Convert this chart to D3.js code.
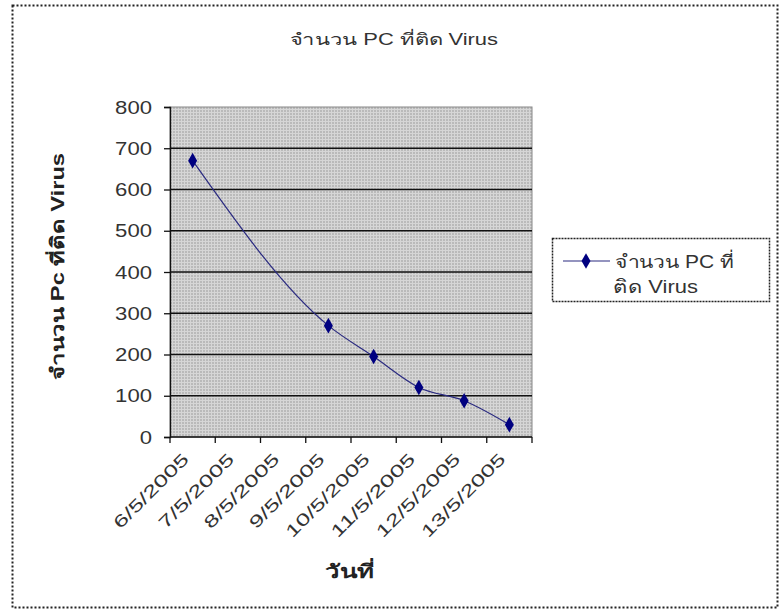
<html>
<meta charset="utf-8">
<script src="https://cdn.jsdelivr.net/npm/d3@7"></script>
<style>
  body { margin: 0; background: white; }
  text { font-family: "Liberation Sans", Arial, "DejaVu Sans", sans-serif; }
</style>
<body>
<div id="chart"></div>
<script>

var dates = ["6/5/2005","7/5/2005","8/5/2005","9/5/2005","10/5/2005","11/5/2005","12/5/2005","13/5/2005"]
var infected = [670, null, null, 270, 195, 120, 88, 30]
var yTicks = [0,100,200,300,400,500,600,700,800]
var seriesName = "จำนวน PC ที่ติด Virus"

var width = 782, height = 614
var plot = {left:170, right:532, top:107, bottom:437}

var svg = d3.select("#chart").append("svg")
  .attr("width", width).attr("height", height)

// dotted outer frame
svg.append("rect")
  .attr("x", 12.5).attr("y", 5.5).attr("width", 765).attr("height", 602)
  .attr("fill", "white").attr("stroke", "#222").attr("stroke-width", 2)
  .attr("stroke-dasharray", "2,2")

// texture for plot area
var defs = svg.append("defs")
var pat = defs.append("pattern").attr("id","dots")
  .attr("width",3).attr("height",3).attr("patternUnits","userSpaceOnUse")
pat.append("rect").attr("width",3).attr("height",3).attr("fill","#bababa")
pat.append("rect").attr("x",1).attr("y",0).attr("width",1).attr("height",3).attr("fill","#d6d6d6")
pat.append("rect").attr("x",0).attr("y",1).attr("width",3).attr("height",1).attr("fill","#d6d6d6")

var x = d3.scaleBand().domain(dates).range([plot.left, plot.right])
var y = d3.scaleLinear().domain([0,800]).range([plot.bottom, plot.top])

svg.append("rect")
  .attr("x", plot.left).attr("y", plot.top)
  .attr("width", plot.right-plot.left).attr("height", plot.bottom-plot.top)
  .attr("fill","url(#dots)").attr("stroke","#888")

// gridlines
svg.append("g").selectAll("line").data(yTicks.filter(function(d){return d>0 && d<800}))
  .enter().append("line")
  .attr("x1", plot.left).attr("x2", plot.right)
  .attr("y1", function(d){return y(d)}).attr("y2", function(d){return y(d)})
  .attr("stroke","#111").attr("stroke-width",1.6)

// y axis
var yAxis = d3.axisLeft(y).tickValues(yTicks).tickSize(6).tickPadding(12)
var gy = svg.append("g").attr("transform","translate("+plot.left+",0)").call(yAxis)
gy.select(".domain").attr("stroke","#111").attr("stroke-width",1.3)
gy.selectAll(".tick line").attr("stroke","#111").attr("stroke-width",1.3)
gy.selectAll("text").attr("font-size",19).attr("fill","#333")
  .attr("font-family","'Liberation Sans', Arial, sans-serif")
  .attr("textLength",function(d){return String(d).length*12.3})
  .attr("lengthAdjust","spacingAndGlyphs")

// x axis: ticks between categories
var gx = svg.append("g").attr("transform","translate(0,"+plot.bottom+")")
gx.append("line").attr("x1",plot.left).attr("x2",plot.right)
  .attr("stroke","#111").attr("stroke-width",1.3)
var edges = dates.map(function(d){return x(d)}).concat([plot.right])
gx.selectAll("line.tk").data(edges).enter().append("line").attr("class","tk")
  .attr("x1",function(d){return d}).attr("x2",function(d){return d})
  .attr("y1",0).attr("y2",6).attr("stroke","#111").attr("stroke-width",1.3)
gx.selectAll("text").data(dates).enter().append("text")
  .attr("transform",function(d){return "translate("+(x(d)+x.bandwidth()/2-7)+",19) rotate(-45)"})
  .attr("text-anchor","end").attr("dy","0.35em")
  .attr("font-size",17).attr("fill","#333")
  .attr("textLength",function(d){return d.length*12.3})
  .attr("lengthAdjust","spacingAndGlyphs")
  .text(function(d){return d})

// line series (smoothed, gaps spanned)
var pts = dates.map(function(d,i){return {date:d, v:infected[i]}}).filter(function(d){return d.v!=null})
var line = d3.line()
  .x(function(d){return x(d.date)+x.bandwidth()/2})
  .y(function(d){return y(d.v)})
  .curve(d3.curveMonotoneX)
svg.append("path").datum(pts).attr("d",line)
  .attr("fill","none").attr("stroke","#2a2a80").attr("stroke-width",1.2)

var diamond = d3.symbol().type(d3.symbolDiamond).size(70)
svg.append("g").selectAll("path").data(pts).enter().append("path")
  .attr("d",diamond)
  .attr("transform",function(d){return "translate("+(x(d.date)+x.bandwidth()/2)+","+y(d.v)+")"})
  .attr("fill","#000080")

// title
svg.append("text").attr("x",290).attr("y",45)
  .attr("font-size",16).attr("fill","#333")
  .attr("textLength",208).attr("lengthAdjust","spacingAndGlyphs").text(seriesName)

// axis titles
svg.append("text").attr("transform","translate(64,380) rotate(-90)")
  .attr("font-size",18).attr("font-weight","bold")
  .attr("textLength",227).attr("lengthAdjust","spacingAndGlyphs")
  .attr("fill","#222").text("จำนวน Pc ที่ติด Virus")
svg.append("text").attr("x",325).attr("y",578)
  .attr("font-size",19).attr("font-weight","bold").attr("fill","#222")
  .attr("textLength",50).attr("lengthAdjust","spacingAndGlyphs").text("วันที่")

// legend
var lg = svg.append("g")
lg.append("rect").attr("x",552.5).attr("y",238.5).attr("width",217).attr("height",63)
  .attr("fill","white").attr("stroke","#222").attr("stroke-width",1.5).attr("stroke-dasharray","2,1")
lg.append("line").attr("x1",563).attr("x2",610).attr("y1",261).attr("y2",261)
  .attr("stroke","#2a2a80").attr("stroke-width",1.2)
lg.append("path").attr("d",diamond).attr("transform","translate(586,261)").attr("fill","#000080")
lg.append("text").attr("x",615).attr("y",268).attr("font-size",18).attr("fill","#333")
  .attr("textLength",119).attr("lengthAdjust","spacingAndGlyphs").text("จำนวน PC ที่")
lg.append("text").attr("x",613).attr("y",293).attr("font-size",18).attr("fill","#333")
  .attr("textLength",85).attr("lengthAdjust","spacingAndGlyphs").text("ติด Virus")

</script>
</body>
</html>
